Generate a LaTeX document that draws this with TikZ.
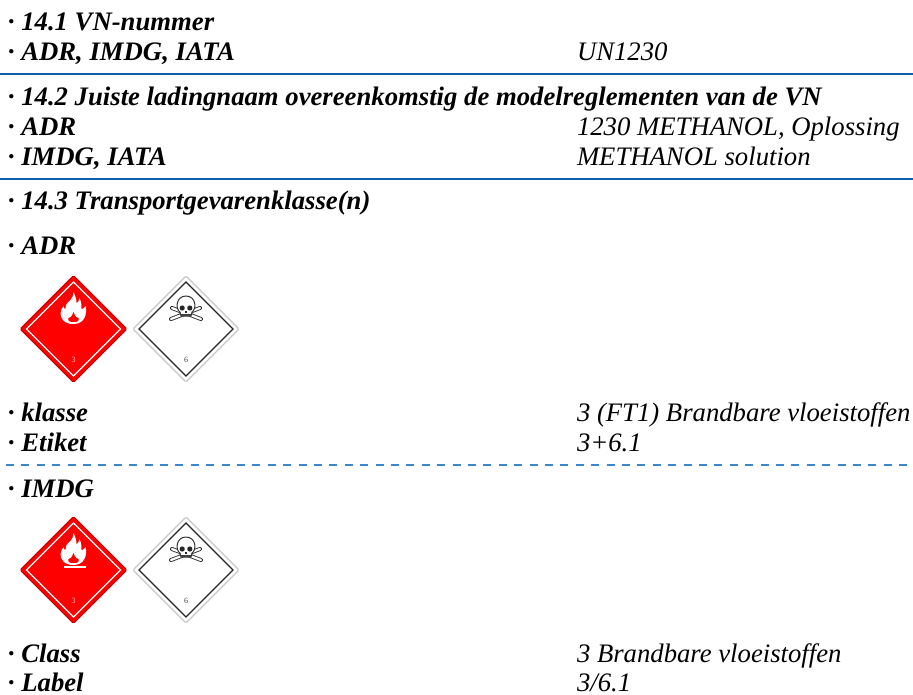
\documentclass[tikz,border=0pt]{standalone}
\usepackage{fontspec}
\setmainfont{Liberation Serif}
\definecolor{rulecol}{HTML}{0F5CA8}
\definecolor{dashcol}{HTML}{3A86D0}
\definecolor{redsign}{HTML}{FE0000}
\tikzset{
  lab/.style={anchor=base west,inner sep=0pt,outer sep=0pt,font=\fontsize{26.7}{26.7}\selectfont\bfseries\itshape},
  val/.style={anchor=base west,inner sep=0pt,outer sep=0pt,font=\fontsize{26.7}{26.7}\selectfont\itshape},
  solidrule/.style={draw=rulecol,line width=2pt},
  dashrule/.style={draw=dashcol,line width=1.6pt,dash pattern=on 8pt off 7.4pt},
}
\newcommand{\flamesign}[2]{%
\begin{scope}[shift={(#1,#2)}]
  \path[fill=redsign,draw=red!75!black,line width=1pt,rounded corners=1.5pt] (0,-53.5)--(53.5,0)--(0,53.5)--(-53.5,0)--cycle;
  \path[draw=white,line width=1.3pt] (0,-47)--(47,0)--(0,47)--(-47,0)--cycle;
  \path[fill=white] (0,-5) .. controls (-10,-5) and (-13,-11) .. (-13,-16)
     .. controls (-13,-19) and (-11,-21) .. (-10,-23)
     .. controls (-10,-21) and (-9,-20) .. (-8,-20)
     .. controls (-8,-26) and (-5,-27) .. (-3,-29)
     .. controls (-1,-31) and (0,-34) .. (0,-37)
     .. controls (2,-33) and (3,-29) .. (3,-26)
     .. controls (5,-26) and (5,-28) .. (6,-31)
     .. controls (8,-27) and (8,-23) .. (8,-20)
     .. controls (10,-20) and (11,-21) .. (12,-23)
     .. controls (14,-15) and (11,-5) .. (0,-5) -- cycle;
  \path[fill=redsign] (0,-7) .. controls (-4,-7) and (-6,-8) .. (-5,-11) .. controls (-3,-11) and (-2,-12) .. (0,-17) .. controls (2,-12) and (3,-11) .. (5,-11) .. controls (6,-8) and (4,-7) .. (0,-7) -- cycle;
  \node[text=white!75!red,font=\fontsize{8}{8}\selectfont,inner sep=0pt] at (0,31) {3};
\end{scope}}
\newcommand{\skullsign}[2]{%
\begin{scope}[shift={(#1,#2)}]
  \path[fill=white,draw=black!22,line width=1.3pt,rounded corners=1.5pt] (0,-53)--(53,0)--(0,53)--(-53,0)--cycle;
  \path[draw=black!85,line width=1.3pt] (0,-47)--(47,0)--(0,47)--(-47,0)--cycle;
  \path[draw=black!80,line width=4pt,line cap=round] (-14,-21)--(15,-10) (14,-21)--(-15,-10);
  \path[draw=white,line width=2.2pt,line cap=round] (-14,-21)--(15,-10) (14,-21)--(-15,-10);
  \path[draw=black!80,line width=1pt,fill=white] (-6,-17) .. controls (-11,-20) and (-10,-33) .. (0,-33) .. controls (10,-33) and (11,-20) .. (6,-17) -- (5,-13) -- (-5,-13) -- cycle;
  \path[fill=black!85] (-3.8,-21) circle (2.6) (3.8,-21) circle (2.6);
  \path[fill=black!85] (-1.3,-16.5) rectangle (1.3,-18);
  \path[fill=black!75] (-5,-13) rectangle (5,-15);
  \node[text=black!75,font=\fontsize{8}{8}\selectfont,inner sep=0pt] at (0,31) {6};
\end{scope}}
\begin{document}
\begin{tikzpicture}[x=1pt,y=-1pt]
\useasboundingbox (0,0) rectangle (913,694);
\coordinate (r1a) at (0,74); \coordinate (r1b) at (913,74);
\coordinate (r2a) at (0,179); \coordinate (r2b) at (913,179);
\coordinate (r3a) at (6,464.7); \coordinate (r3b) at (913,464.7);
\draw[solidrule] (r1a)--(r1b);
\draw[solidrule] (r2a)--(r2b);
\draw[dashrule] (r3a)--(r3b);
\node[lab] (h1) at (8,30) {\textperiodcentered{} 14.1 VN-nummer};
\node[lab] (a1) at (8,60) {\textperiodcentered{} ADR, IMDG, IATA};
\node[val] (v1) at (577,60) {UN1230};
\node[lab] (h2) at (8,105) {\textperiodcentered{} 14.2 Juiste ladingnaam overeenkomstig de modelreglementen van de VN};
\node[lab] (a2) at (8,135) {\textperiodcentered{} ADR};
\node[val] (v2) at (577,135) {1230 METHANOL, Oplossing};
\node[lab] (a3) at (8,165) {\textperiodcentered{} IMDG, IATA};
\node[val] (v3) at (577,165) {METHANOL solution};
\node[lab] (h3) at (8,209.5) {\textperiodcentered{} 14.3 Transportgevarenklasse(n)};
\node[lab] (a4) at (8,254.5) {\textperiodcentered{} ADR};
\flamesign{73.5}{329}
\skullsign{186}{329}
\node[lab] (a5) at (8,421) {\textperiodcentered{} klasse};
\node[val] (v5) at (577,421) {3 (FT1) Brandbare vloeistoffen};
\node[lab] (a6) at (8,451) {\textperiodcentered{} Etiket};
\node[val] (v6) at (577,451) {3+6.1};
\node[lab] (a7) at (8,497) {\textperiodcentered{} IMDG};
\flamesign{73.5}{570}
\path[fill=white] (64,566) rectangle (86,567.5);
\skullsign{186}{570}
\node[lab] (a8) at (8,662.5) {\textperiodcentered{} Class};
\node[val] (v8) at (577,662.5) {3 Brandbare vloeistoffen};
\node[lab] (a9) at (8,691.5) {\textperiodcentered{} Label};
\node[val] (v9) at (577,691.5) {3/6.1};
\end{tikzpicture}
\end{document}
